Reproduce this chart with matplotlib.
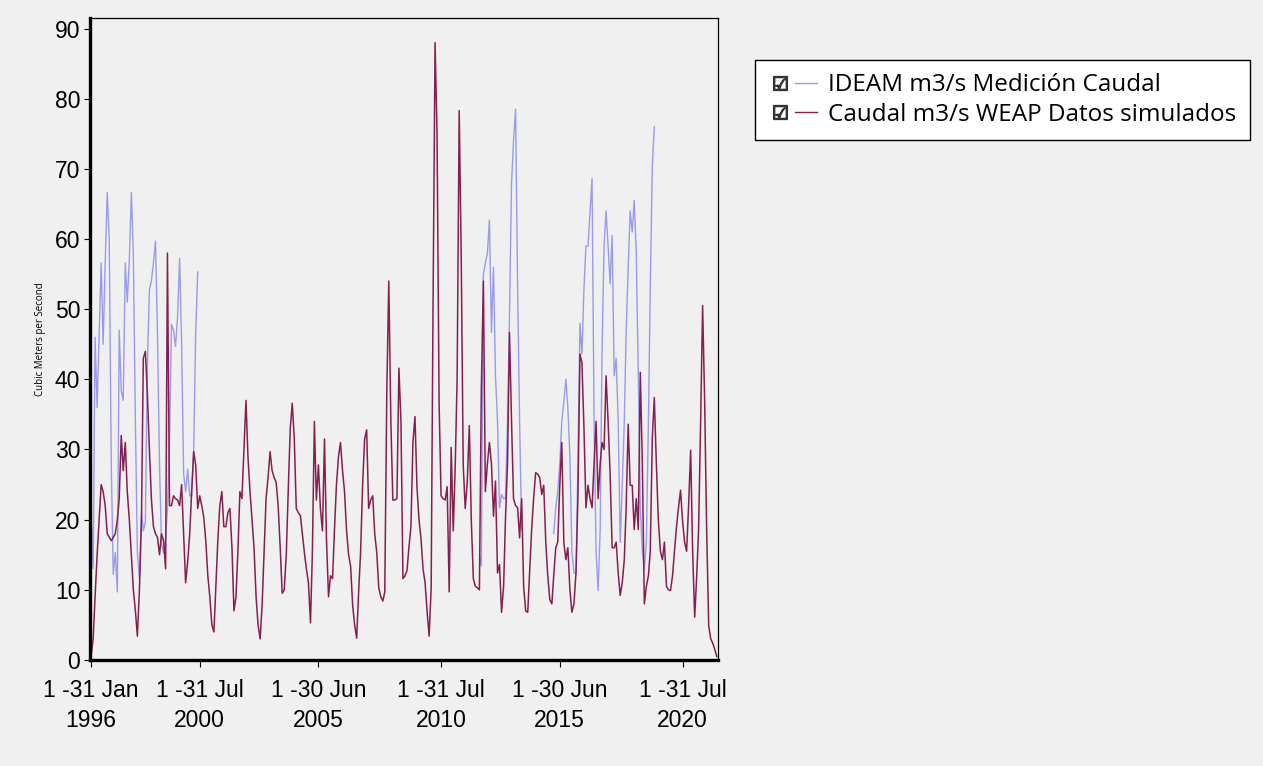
import numpy as np
import pandas as pd
import matplotlib
matplotlib.use('Agg')
import matplotlib.pyplot as plt
from matplotlib.lines import Line2D
from matplotlib.legend_handler import HandlerTuple

# Monthly series, Jan 1996 - Dec 2021
months = pd.date_range('1996-01-01', periods=312, freq='MS')

# WEAP simulated flow (m3/s), one value per month
weap_sim = [
    0.5, 3, 9, 15, 20, 25, 24, 22, 18, 17.5, 17, 17.5,            # 1996
    18, 20, 23, 32, 27, 31, 24, 20, 15, 10, 7, 3.4,               # 1997
    10, 20, 43, 44, 38, 30, 23, 19, 18, 17.5, 15, 18,             # 1998
    17, 13, 58, 22, 22, 23.4, 23, 22.8, 22, 25, 18, 11,           # 1999
    14, 18, 24, 29.7, 27.8, 21.6, 23.4, 22, 20.3, 17, 12, 9,      # 2000
    5, 4, 10, 17, 22, 24, 19, 19, 21, 21.6, 16, 7,                # 2001
    9, 16, 24, 23, 30, 37, 29, 24, 20, 16, 9, 5,                  # 2002
    3, 8, 15, 23, 26, 29.7, 27, 26, 25.3, 22, 16, 9.5,            # 2003
    10, 15, 24, 33, 36.6, 31.5, 21.6, 21, 20.6, 18, 15.3, 13,     # 2004
    11, 5.3, 15, 34, 22.8, 27.8, 21.6, 18.4, 31.5, 17.2, 9, 12,   # 2005
    11.6, 19, 25, 29, 31, 27, 24, 18.4, 15, 13.4, 7.8, 5,         # 2006
    3.1, 10, 15.3, 25, 31.5, 32.8, 21.6, 22.8, 23.4, 18, 15.3, 10.3,  # 2007
    9, 8.4, 9.7, 38.4, 54, 34, 22.8, 22.8, 23, 41.6, 34, 11.6,    # 2008
    12, 12.8, 16, 19, 31, 34.7, 24.7, 20, 17.2, 13, 11, 7,        # 2009
    3.4, 10.3, 50, 88, 75, 36.6, 23.4, 23, 22.8, 24.7, 9.7, 30.3,     # 2010
    18.4, 28, 40.3, 78.3, 58, 27.8, 21.6, 25.3, 33.4, 20, 11.6, 10.5,  # 2011
    10.3, 10, 38.6, 54, 24, 28, 31, 28, 20.5, 25.5, 12.4, 13.6,   # 2012
    6.8, 10.5, 20, 28, 46.7, 34, 23, 22, 21.7, 17.4, 23, 10.5,    # 2013
    7, 6.8, 12.4, 18.6, 23, 26.7, 26.5, 26, 23.6, 24.9, 16.8, 12,  # 2014
    8.6, 8, 12, 16, 16.8, 24.9, 31, 16.8, 14.3, 16, 10, 6.8,      # 2015
    8, 12.4, 23, 43.6, 42.4, 33, 21.7, 24.9, 23, 21.7, 28, 34,    # 2016
    23, 28, 31, 30, 40.5, 34, 26.7, 16, 16, 16.8, 12.4, 9.2,      # 2017
    11, 14.3, 21.7, 33.6, 24.9, 24.9, 18.6, 23, 18.6, 41, 28, 8,  # 2018
    10.5, 12, 15.5, 31.7, 37.4, 28, 20, 15.5, 14.3, 16.8, 10.5, 10,  # 2019
    9.9, 12, 15.5, 19, 21.7, 24.2, 19.9, 16.8, 15.5, 22, 29.9, 15.5,  # 2020
    6.1, 12, 18.6, 34, 50.5, 36.8, 18.6, 4.9, 3, 2.4, 1.5, 0.5,   # 2021
]

# IDEAM measured flow (m3/s), only three periods with data
ideam_a_start = 0      # Jan 1996
ideam_a = [21, 13, 46, 36, 46, 56.6, 45, 56.6, 66.6, 60, 28, 12.2,
           15.3, 9.7, 47, 38.4, 37, 56.6, 51, 57, 66.6, 57.8, 34, 15.3,
           11.6, 21, 18.4, 19.7, 42, 52.8, 54, 56.6, 59.7, 46.6, 27.8, 16.6,
           15.3, 17.2, 21.6, 31, 47.8, 47, 44.7, 49, 57.2, 45.3, 26.5, 24,
           27.2, 23.4, 23.4, 29.7, 46.6, 55.3]
ideam_b_start = 193    # Feb 2012
ideam_b = [15, 13.4, 55, 56.6, 58, 62.7, 46.7, 56, 40.5, 34, 21.7,
           23.6, 23, 23, 34, 49, 68, 74, 78.5, 53, 34, 18.6]
ideam_c_start = 230    # Mar 2015
ideam_c = [18, 21.7, 24, 28, 34, 36.8, 40, 36, 29, 15.5, 12.4, 12.4,
           28, 48, 43.6, 53, 59, 59, 64, 68.6, 34, 15.5, 9.9, 18.6,
           43.6, 59, 64, 59, 53.6, 60.5, 40.5, 43, 34, 16.8, 24.9, 34,
           46.7, 56, 64, 61, 65.5, 58, 40.5, 21.7, 15.5, 13, 16.8, 34,
           53, 70.5, 76]

tick_dates = ['1996-01-01', '2000-07-01', '2005-06-01', '2010-07-01', '2015-06-01', '2020-07-01']
tick_labels = ['1 -31 Jan\n1996', '1 -31 Jul\n2000', '1 -30 Jun\n2005',
               '1 -31 Jul\n2010', '1 -30 Jun\n2015', '1 -31 Jul\n2020']

labels = ['IDEAM m3/s Medición Caudal', 'Caudal m3/s WEAP Datos simulados']

ideam = np.full(len(months), np.nan)
for start, seg in [(ideam_a_start, ideam_a), (ideam_b_start, ideam_b), (ideam_c_start, ideam_c)]:
    ideam[start:start + len(seg)] = seg

bg = '#f0f0f0'
c_ideam = '#9a9aea'
c_weap = '#84204f'
tick_font = ['Liberation Sans', 'DejaVu Sans']

fig = plt.figure(figsize=(12.63, 7.66), dpi=100, facecolor=bg)
ax = fig.add_axes([0.0713, 0.1384, 0.4972, 0.8381], facecolor=bg)

l1, = ax.plot(months, ideam, color=c_ideam, lw=1.0)
l2, = ax.plot(months, weap_sim, color=c_weap, lw=1.1)

ax.set_ylim(0, 91.5)
ax.set_xlim(pd.Timestamp('1995-12-16'), pd.Timestamp('2021-12-20'))
ax.set_yticks(range(0, 91, 10))
ax.set_xticks(pd.to_datetime(tick_dates))
ax.set_xticklabels(tick_labels, linespacing=1.35)
for lab in ax.get_xticklabels() + ax.get_yticklabels():
    lab.set_fontfamily(tick_font)
    lab.set_fontsize(16.5)
ax.tick_params(axis='y', direction='out', length=4, width=0.8, pad=3, colors='black')
ax.tick_params(axis='x', direction='out', length=5, width=0.8, pad=9, colors='black')
ax.set_ylabel('Cubic Meters per Second', fontsize=7, family=['Open Sans', 'DejaVu Sans'], labelpad=6)

for side in ['top', 'right']:
    ax.spines[side].set_linewidth(0.9)
for side in ['left', 'bottom']:
    ax.spines[side].set_linewidth(2.4)

checkbox = Line2D([], [], marker='$\u2611$', linestyle='none', color='#333333', markersize=10)
handles = [(checkbox, Line2D([], [], color=c_ideam, lw=1)),
           (checkbox, Line2D([], [], color=c_weap, lw=1))]
leg = fig.legend(handles, labels, loc='upper left', bbox_to_anchor=(0.598, 0.9217),
                 handler_map={tuple: HandlerTuple(ndivide=None, pad=0.2)},
                 prop={'family': ['Open Sans', 'DejaVu Sans'], 'size': 17.5},
                 frameon=True, fancybox=False, edgecolor='black', facecolor='white',
                 framealpha=1, handlelength=2.0, handletextpad=0.45, borderpad=0.55,
                 labelspacing=0.22, borderaxespad=0)
leg.get_frame().set_linewidth(1.0)

fig.savefig('out.png', dpi=100, facecolor=bg)
